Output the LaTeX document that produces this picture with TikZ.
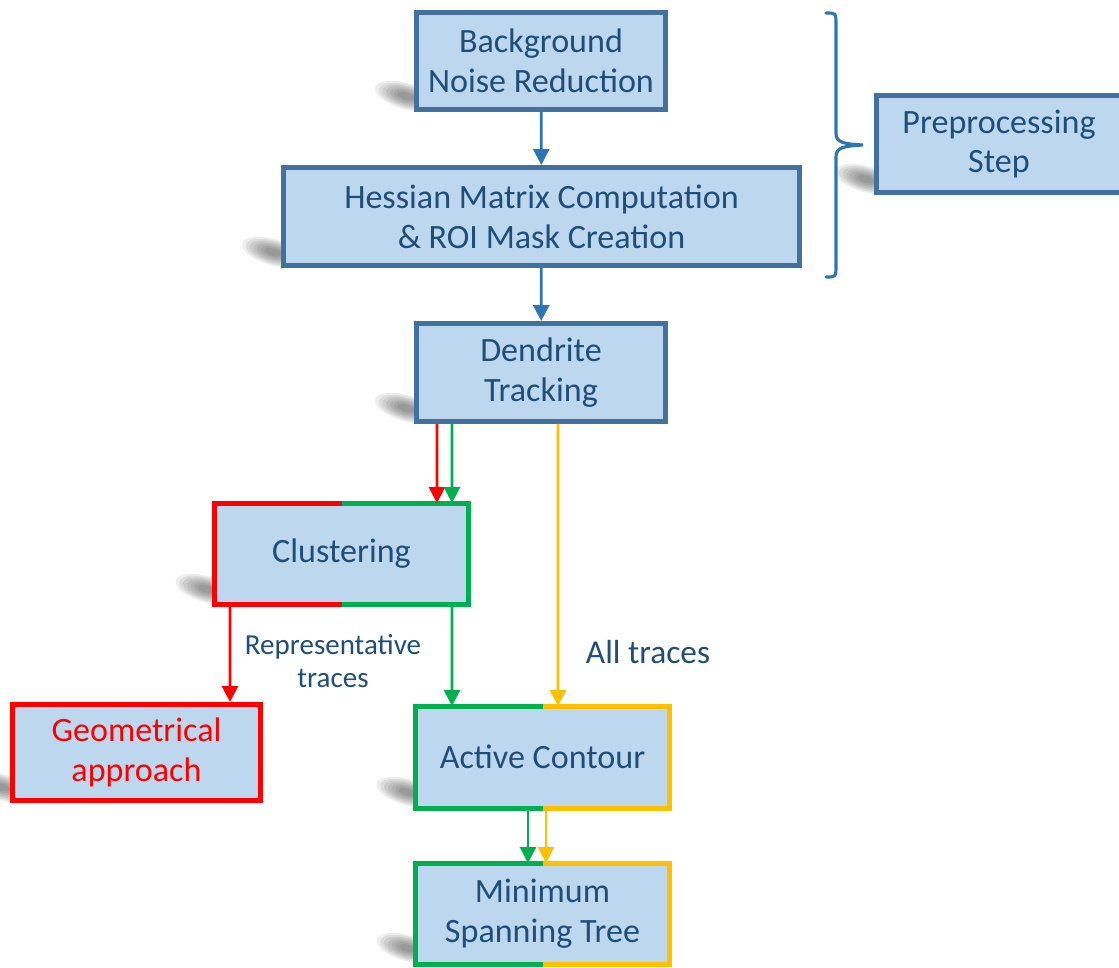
\documentclass[tikz,border=0pt]{standalone}
\usepackage{fontspec}
\setmainfont{Carlito}
\usepackage{xcolor}
\usetikzlibrary{arrows.meta, positioning, calc, backgrounds}

\definecolor{boxfill}{HTML}{BDD7EE}
\definecolor{boxline}{HTML}{41719C}
\definecolor{boxtext}{HTML}{1F4E79}
\definecolor{flowblue}{HTML}{2E75B6}
\definecolor{flowred}{HTML}{FF0000}
\definecolor{flowgreen}{HTML}{00B050}
\definecolor{flowyellow}{HTML}{FFC000}

% soft cast shadow off the lower left corner of a box (stacked ellipses)
\newcommand{\castshadow}[1]{%
  \foreach \r in {1.0,0.88,0.76,0.64,0.52,0.4,0.28}
    \fill[black, fill opacity=0.07, rotate around={-16:($(#1.south west)+(-12,-13)$)}]
      ($(#1.south west)+(-12,-13)$) ellipse ({32*\r} and {13*\r});}

% two-coloured frame: left half in #2, right half in #3
\newcommand{\splitframe}[3]{%
  \draw[line width=0.1cm, #2, line join=miter] (#1.north) -- (#1.north west) -- (#1.south west) -- (#1.south);
  \draw[line width=0.1cm, #3, line join=miter] (#1.north) -- (#1.north east) -- (#1.south east) -- (#1.south);}

\begin{document}
\begin{tikzpicture}[x=0.02cm, y=-0.02cm,
    stage/.style={fill=boxfill, line width=0.1cm, text=boxtext, align=center,
      minimum width=4.98cm, minimum height=1.94cm, inner sep=0pt,
      font=\fontsize{19.4}{22.7}\selectfont},
    framed/.style={stage, draw=boxline},
    flow/.style={line width=1.6pt, -{Triangle[width=9pt, length=9pt]}},
    note/.style={text=boxtext, align=center}]
  \useasboundingbox (0,0) rectangle (1119,967);

  % Preprocessing
  \node[framed] (bgnoise) at (541,61) {Background\\Noise Reduction};
  \node[framed, minimum width=10.32cm, minimum height=1.96cm] (hessian) at (541.5,216.5) {Hessian Matrix Computation\\\& ROI Mask Creation};
  \node[framed, minimum width=4.9cm] (prepro) at (999,144) {Preprocessing\\Step};

  % Tracking and its two branches
  \node[framed, minimum height=1.96cm] (tracking) at (541,372.5) {Dendrite\\Tracking};
  \node[stage] (cluster) at (341.5,554) {Clustering};
  \node[stage, draw=flowred, text=flowred, minimum height=1.92cm] (geom) at (136.5,752.5) {Geometrical\\approach};
  \node[stage] (contour) at (542.5,757) {Active Contour};
  \node[stage, minimum height=1.92cm] (mst) at (542.5,913.5) {Minimum\\Spanning Tree};

  \splitframe{cluster}{flowred}{flowgreen}
  \splitframe{contour}{flowgreen}{flowyellow}
  \splitframe{mst}{flowgreen}{flowyellow}

  \begin{pgfonlayer}{background}
    \foreach \n in {bgnoise, hessian, prepro, tracking, cluster, geom, contour, mst}
      \castshadow{\n};
  \end{pgfonlayer}

  % brace over the preprocessing stages
  \draw[flowblue, line width=1.8pt, line cap=round]
    (826,13) .. controls (836,13) .. (836,25) -- (836,133)
    .. controls (836,142) and (842,144) .. (863,145)
    .. controls (842,146) and (836,148) .. (836,157) -- (836,265)
    .. controls (836,277) .. (826,277);

  % connectors
  \draw[flow, flowblue] (bgnoise) -- (hessian);
  \draw[flow, flowblue] (hessian) -- (tracking);
  \draw[flow, flowred] ([xshift=-2.08cm]tracking.south) -- ([xshift=1.91cm]cluster.north);
  \draw[flow, flowgreen] ([xshift=-1.78cm]tracking.south) -- ([xshift=2.21cm]cluster.north);
  \draw[flow, flowyellow] ([xshift=0.34cm]tracking.south) -- ([xshift=0.31cm]contour.north);
  \draw[flow, flowred] ([xshift=-2.23cm]cluster.south) -- ([xshift=1.87cm]geom.north);
  \draw[flow, flowgreen] ([xshift=2.21cm]cluster.south) -- ([xshift=-1.81cm]contour.north);
  \draw[flow, flowgreen] ([xshift=-0.29cm]contour.south) -- ([xshift=-0.29cm]mst.north);
  \draw[flow, flowyellow] ([xshift=0.07cm]contour.south) -- ([xshift=0.07cm]mst.north);

  % branch labels
  \node[note, font=\fontsize{16.5}{18.5}\selectfont] (reptraces) at (333,661) {Representative\\traces};
  \node[note, font=\fontsize{19}{22}\selectfont] (alltraces) at (648,652) {All traces};
\end{tikzpicture}
\end{document}
